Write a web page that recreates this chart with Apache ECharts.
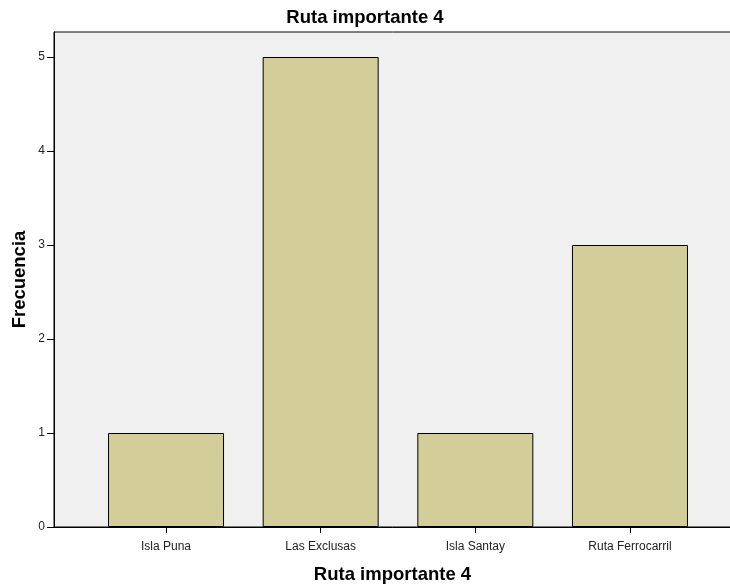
<!DOCTYPE html>
<html><head><meta charset="utf-8">
<script src="https://cdn.jsdelivr.net/npm/echarts@6/dist/echarts.min.js"></script>
<style>html,body{margin:0;padding:0;background:#fff}#c{width:730px;height:586px}</style>
</head><body><div id="c"></div>
<script>
const categories = ['Isla Puna', 'Las Exclusas', 'Isla Santay', 'Ruta Ferrocarril'];
const frecuencia = [1, 5, 1, 3];
const yTicks = [0, 1, 2, 3, 4, 5];
const titleText = 'Ruta importante 4';
const xName = 'Ruta importante 4';
const yName = 'Frecuencia';

const FONT = '"Liberation Sans", Arial, sans-serif';
const YMAX = 5.266;
const chart = echarts.init(document.getElementById('c'), null, {renderer: 'canvas'});
chart.setOption({
  animation: false,
  backgroundColor: '#fff',
  title: {text: titleText, left: 'center', top: 3,
    textStyle: {fontFamily: FONT, fontSize: 18.5, fontWeight: 'bold', color: '#000'}},
  grid: [
    {left: 54, right: -1, top: 32, bottom: 59, show: true, backgroundColor: '#F0F0F0', borderColor: '#000', borderWidth: 1, outerBoundsMode: 'none', containLabel: false},
    {left: 88.7, right: 22.7, top: 32, bottom: 59, outerBoundsMode: 'none', containLabel: false}
  ],
  xAxis: [
    {gridIndex: 0, type: 'value', min: 0, max: 1, show: true,
      axisLine: {show: true, lineStyle: {color: '#000', width: 1}},
      axisTick: {show: false}, axisLabel: {show: false}, splitLine: {show: false},
      name: xName, nameLocation: 'middle', nameGap: 38, nameMoveOverlap: false,
      nameTextStyle: {fontFamily: FONT, fontSize: 18.5, fontWeight: 'bold', color: '#000'}},
    {gridIndex: 1, type: 'category', data: categories, boundaryGap: true,
      axisLine: {show: false},
      axisTick: {show: true, alignWithLabel: true, length: 6, lineStyle: {color: '#000'}},
      axisLabel: {fontFamily: FONT, fontSize: 12, color: '#222', margin: 14}}
  ],
  yAxis: [
    {gridIndex: 0, type: 'value', min: 0, max: YMAX,
      axisLine: {show: true, lineStyle: {color: '#000'}},
      axisTick: {show: true, length: 7, customValues: yTicks, lineStyle: {color: '#000'}},
      axisLabel: {customValues: yTicks, fontFamily: FONT, fontSize: 12, color: '#222', margin: 9},
      splitLine: {show: false},
      name: yName, nameLocation: 'middle', nameGap: 25, nameMoveOverlap: false,
      nameTextStyle: {fontFamily: FONT, fontSize: 18.5, fontWeight: 'bold', color: '#000'}},
    {gridIndex: 1, type: 'value', min: 0, max: YMAX, show: false}
  ],
  series: [{
    type: 'bar', xAxisIndex: 1, yAxisIndex: 1,
    data: frecuencia, barWidth: 116,
    itemStyle: {color: '#D3CE99', borderColor: '#000', borderWidth: 1}
  }]
});
</script></body></html>
